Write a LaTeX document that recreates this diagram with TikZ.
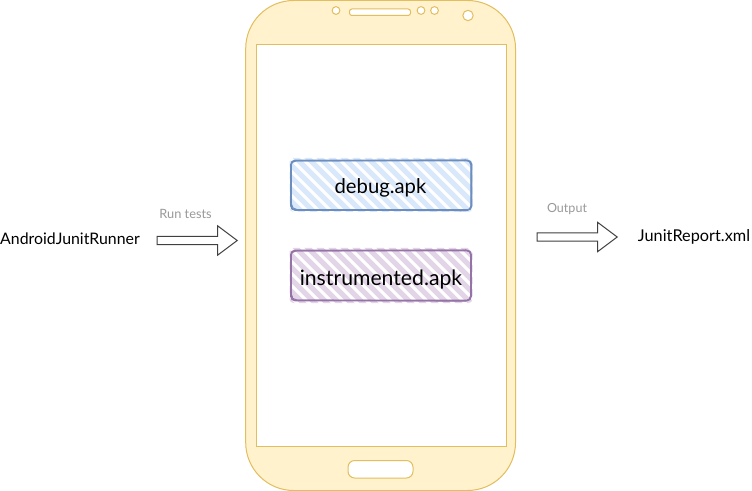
\documentclass[tikz,border=0pt]{standalone}
\usepackage{fontspec}
\setmainfont{Lato}
\usetikzlibrary{shapes.arrows}
\definecolor{phonefill}{HTML}{FFF2CC}
\definecolor{phoneline}{HTML}{E2BE5E}
\definecolor{bluefill}{HTML}{DAE8FC}
\definecolor{blueline}{HTML}{6C8EBF}
\definecolor{purplefill}{HTML}{E1D5E7}
\definecolor{purpleline}{HTML}{9673A6}
\definecolor{labelgray}{HTML}{999999}
\tikzset{
  phonepart/.style={draw=phoneline,line width=0.75pt},
  hole/.style={phonepart,fill=white},
  blockarrow/.style={single arrow,draw=black!75,fill=white,line width=0.75pt,inner xsep=0pt,inner ysep=2.65pt,outer sep=0pt,
    text height=0pt,text depth=0pt,text width=0pt,
    minimum height=60pt,single arrow head extend=8pt,single arrow tip angle=73.74,anchor=center},
  maintext/.style={text=black,inner sep=0pt},
  greytext/.style={text=labelgray,inner sep=0pt},
  stripes/.style={line width=3.9pt},
}
\begin{document}
\begin{tikzpicture}[x=0.75pt,y=-0.75pt]
\useasboundingbox (0,0) rectangle (752,491);
\fill[white] (0,0) rectangle (752,491);
% phone
\draw[phonepart,fill=phonefill,rounded corners=36pt] (245.7,0.5) rectangle (515.5,490.5);
\draw[hole] (256.5,44.5) rectangle (506,446);
\draw[hole,rounded corners=1.8pt] (349.5,9) rectangle (410.5,15.5);
\draw[hole] (336,10.5) circle[radius=3.9];
\draw[hole] (421,10.5) circle[radius=3.9];
\draw[hole] (434.5,10.5) circle[radius=3.9];
\draw[hole] (468,15.5) circle[radius=5.2];
\draw[hole,rounded corners=5pt] (348,460.5) rectangle (413,478);
% debug box
\begin{scope}
\clip[rounded corners=3pt] (289.5,158) rectangle (472.5,212);
\foreach \s in {-60,-48,...,460}{
  \draw[stripes,bluefill] (\s,150) -- (\s+70,220);
}
\end{scope}
\draw[blueline,line width=1.25pt,rounded corners=3pt] (291,160.5) rectangle (471.5,210);
\draw[blueline,line width=0.8pt,rounded corners=4pt] (290.5,161) -- (291.5,209.5) -- (471,210.8) -- (471,160) -- cycle;
\node[maintext,font=\fontsize{15.2pt}{18pt}\selectfont] (debugapk) at (380.5,187.5) {debug.apk};
% instrumented box
\begin{scope}
\clip[rounded corners=3pt] (289.5,248) rectangle (472.5,303);
\foreach \s in {-60,-48,...,460}{
  \draw[stripes,purplefill] (\s,240) -- (\s+70,310);
}
\end{scope}
\draw[purpleline,line width=1.25pt,rounded corners=3pt] (291,250.5) rectangle (471,300.5);
\draw[purpleline,line width=0.8pt,rounded corners=4pt] (290.5,251) -- (291.5,300) -- (470.5,301.2) -- (471.2,250) -- cycle;
\node[maintext,font=\fontsize{15.9pt}{18pt}\selectfont] (instrumentedapk) at (381,279.5) {instrumented.apk};
% left
\node[maintext,font=\fontsize{11.9pt}{14pt}\selectfont] (runner) at (70,239) {AndroidJunitRunner};
\node[greytext,font=\fontsize{9.6pt}{11pt}\selectfont] (runtests) at (185.5,214) {Run tests};
\node[blockarrow] (runarrow) at (194.5,240.5) {};
% right
\node[blockarrow] (outarrow) at (574.5,237) {};
\node[greytext,font=\fontsize{9.4pt}{11pt}\selectfont] (output) at (567,209.5) {Output};
\node[maintext,font=\fontsize{12.2pt}{14pt}\selectfont] (report) at (694,237) {JunitReport.xml};
\end{tikzpicture}
\end{document}
